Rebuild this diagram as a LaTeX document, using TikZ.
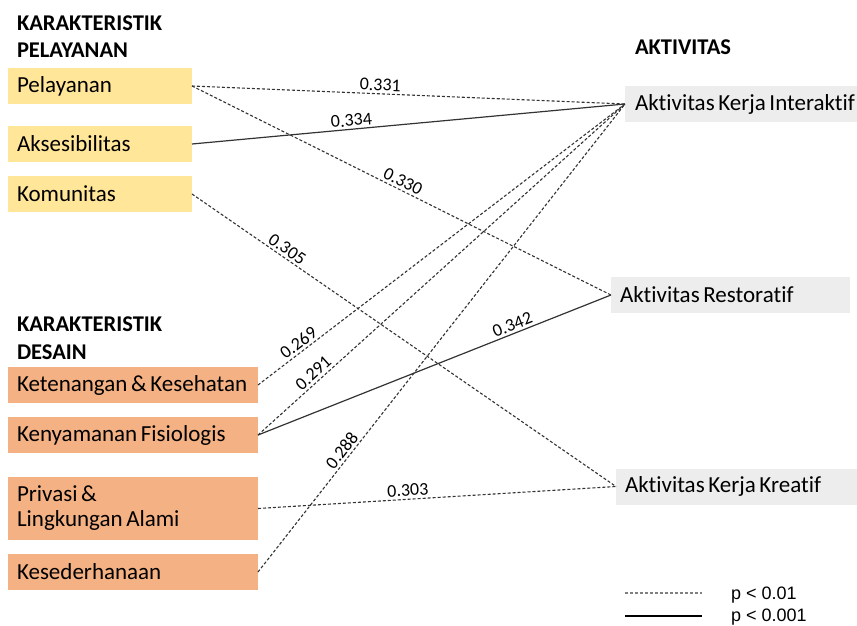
\documentclass[tikz,border=0pt]{standalone}
\usepackage{fontspec}
\setmainfont[Ligatures=NoCommon]{Carlito}
\newfontfamily\legendfont{Liberation Sans}
\definecolor{yellowfill}{HTML}{FFE699}
\definecolor{orangefill}{HTML}{F4B183}
\definecolor{grayfill}{HTML}{EDEDED}
\definecolor{linecol}{HTML}{333333}
\begin{document}
\begin{tikzpicture}[x=1pt,y=-1pt,
  every node/.style={inner sep=0pt, outer sep=0pt},
  boxtext/.style={font=\fontsize{23}{25}\selectfont, execute at begin node={\spaceskip=3.6pt plus 1pt minus 1pt\relax}},
  header/.style={font=\bfseries\fontsize{22.5}{26.7}\selectfont, align=left, anchor=north west},
  sbox/.style={boxtext, anchor=west, minimum height=36pt, align=left, inner xsep=9pt, fill=yellowfill, text width=166pt},
  dbox/.style={boxtext, anchor=west, minimum height=36pt, align=left, inner xsep=9pt, fill=orangefill, text width=232pt},
  abox/.style={boxtext, anchor=west, minimum height=36pt, align=left, inner xsep=9pt, fill=grayfill},
  dline/.style={draw=linecol, line width=1.1pt, dash pattern=on 3pt off 2pt},
  sline/.style={draw=linecol, line width=1.2pt},
  lbl/.style={font=\fontsize{18}{20}\selectfont, sloped, above, inner sep=3pt},
  legtext/.style={font=\legendfont\fontsize{18}{20}\selectfont, anchor=base west}
]
\useasboundingbox (0,0) rectangle (857,626);

% headers
\node[header] (h1) at (17,16) {KARAKTERISTIK\\PELAYANAN};
\node[header, font=\bfseries\fontsize{22.5}{28}\selectfont] (h2) at (17,316.5) {KARAKTERISTIK\\DESAIN};
\node[font=\bfseries\fontsize{22.5}{26}\selectfont, anchor=base west] (h3) at (635,54.3) {AKTIVITAS};

% service boxes
\node[sbox] (pel) at (8,86) {Pelayanan};
\node[sbox] (aks) at (8,144) {Aksesibilitas};
\node[sbox] (kom) at (8,194) {Komunitas};

% design boxes
\node[dbox] (ket) at (8,385) {\mbox{Ketenangan \& Kesehatan}};
\node[dbox] (ken) at (8,435) {\mbox{Kenyamanan Fisiologis}};
\node[dbox, minimum height=63pt] (pri) at (8,508.5) {Privasi \&\\\mbox{Lingkungan Alami}};
\node[dbox] (kes) at (8,572) {Kesederhanaan};

% activity boxes
\node[abox, inner xsep=10pt, text width=240pt] (int) at (625,104) {\mbox{Aktivitas Kerja Interaktif}};
\node[abox, text width=221pt] (res) at (611,295) {\mbox{Aktivitas Restoratif}};
\node[abox, text width=240pt] (kre) at (616,486.5) {\mbox{Aktivitas Kerja Kreatif}};

% connectors
\draw[dline] (pel.east) -- node[lbl, pos=0.434] {0.331} (int.west);
\draw[dline] (pel.east) -- node[lbl, pos=0.494] {0.330} (res.west);
\draw[sline] (aks.east) -- node[lbl, pos=0.37] {0.334} (int.west);
\draw[dline] (kom.east) -- node[lbl, pos=0.213] {0.305} (kre.west);
\draw[dline] (ket.east) -- node[lbl, pos=0.125] {0.269} (int.west);
\draw[dline] (ken.east) -- node[lbl, pos=0.167] {0.291} (int.west);
\draw[sline] (ken.east) -- node[lbl, pos=0.73] {0.342} (res.west);
\draw[dline] (pri.east) -- node[lbl, pos=0.42] {0.303} (kre.west);
\draw[dline] (kes.east) -- node[lbl, pos=0.248] {0.288} (int.west);

% legend
\coordinate (l1a) at (625,593);
\coordinate (l1b) at (702,593);
\coordinate (l2a) at (625,616);
\coordinate (l2b) at (702,616);
\draw[dline, draw=gray] (l1a) -- (l1b);
\draw[sline, draw=black] (l2a) -- (l2b);
\node[legtext] (p1) at (731,599) {p < 0.01};
\node[legtext] (p2) at (731,621.7) {p < 0.001};
\end{tikzpicture}
\end{document}
